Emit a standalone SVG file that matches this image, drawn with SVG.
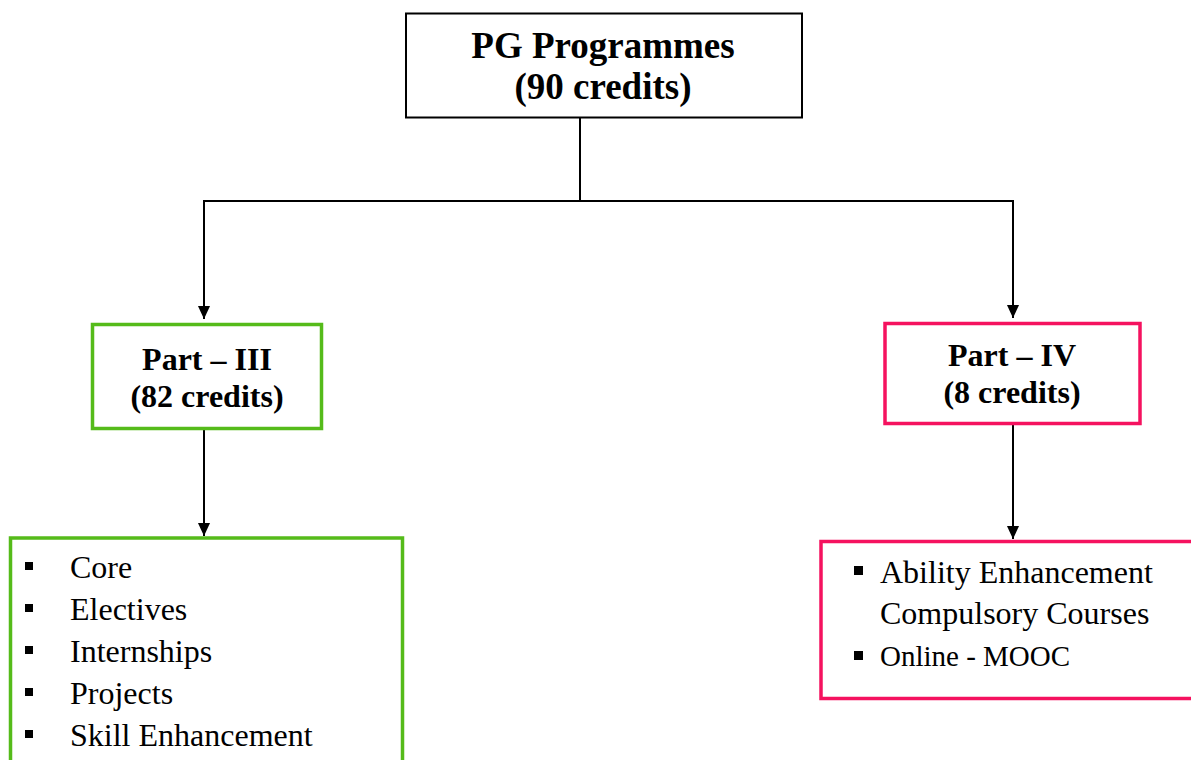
<svg xmlns="http://www.w3.org/2000/svg" width="1191" height="760" viewBox="0 0 1191 760">
<style>
.box{fill:#fff;stroke-width:3.5}
.blk{stroke:#000;stroke-width:2}
.grn{stroke:#55BB1A}
.pnk{stroke:#F5125F}
.t{font-family:"Liberation Serif","Times New Roman",serif;fill:#000}
.b{font-weight:bold}
.c{stroke:#000;stroke-width:2;fill:none}
</style>
<defs>
<marker id="ah" markerWidth="13" markerHeight="15" refX="14" refY="6.5" orient="auto" markerUnits="userSpaceOnUse" viewBox="0 0 14 13">
<path d="M0,0 L14,6.5 L0,13 z" fill="#000"/>
</marker>
</defs>
<rect width="1191" height="760" fill="#fff"/>
<g id="connectors">
<path class="c" d="M580,118 V201 H204 V319" marker-end="url(#ah)"/>
<path class="c" d="M580,201 H1013 V318" marker-end="url(#ah)"/>
<path class="c" d="M204,430 V536" marker-end="url(#ah)"/>
<path class="c" d="M1013,425 V539" marker-end="url(#ah)"/>
</g>
<g id="pg">
<rect x="406" y="13.5" width="396" height="104" fill="#fff" class="blk"/>
<text class="t b" x="603" y="58" font-size="37" text-anchor="middle">PG Programmes</text>
<text class="t b" x="603" y="99" font-size="37" text-anchor="middle">(90 credits)</text>
</g>
<g id="part3">
<rect x="92.5" y="324.5" width="229" height="104" class="box grn"/>
<text class="t b" x="207" y="370" font-size="32" text-anchor="middle">Part – III</text>
<text class="t b" x="207" y="407" font-size="32" text-anchor="middle">(82 credits)</text>
</g>
<g id="part4">
<rect x="885" y="323.5" width="255" height="100" class="box pnk"/>
<text class="t b" x="1012" y="366" font-size="32" text-anchor="middle">Part – IV</text>
<text class="t b" x="1012" y="403" font-size="32" text-anchor="middle">(8 credits)</text>
</g>
<g id="list3">
<rect x="10.5" y="538" width="392" height="240" class="box grn"/>
<g fill="#000">
<rect x="25" y="562" width="8" height="8"/>
<rect x="25" y="604" width="8" height="8"/>
<rect x="25" y="646" width="8" height="8"/>
<rect x="25" y="688" width="8" height="8"/>
<rect x="25" y="730" width="8" height="8"/>
</g>
<text class="t" x="70" y="578" font-size="32">Core</text>
<text class="t" x="70" y="620" font-size="32">Electives</text>
<text class="t" x="70" y="662" font-size="32">Internships</text>
<text class="t" x="70" y="704" font-size="32">Projects</text>
<text class="t" x="70" y="746" font-size="32">Skill Enhancement</text>
</g>
<g id="list4">
<rect x="821" y="541.5" width="390" height="157" class="box pnk"/>
<g fill="#000">
<rect x="854" y="566" width="9" height="9"/>
<rect x="854" y="651" width="9" height="9"/>
</g>
<text class="t" x="880" y="583" font-size="32">Ability Enhancement</text>
<text class="t" x="880" y="624" font-size="32">Compulsory Courses</text>
<text class="t" x="880" y="666" font-size="29">Online - MOOC</text>
</g>
</svg>
